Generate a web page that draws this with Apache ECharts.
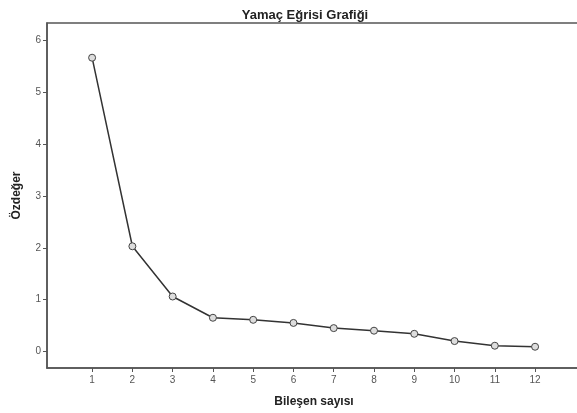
<!DOCTYPE html>
<html>
<head>
<meta charset="utf-8">
<script src="https://cdn.jsdelivr.net/npm/echarts@6/dist/echarts.min.js"></script>
<style>
html, body { margin: 0; padding: 0; background: #fff; overflow: hidden; }
/* biraz geniş: sağ kenar pencerenin dışında kalsın */
#main { width: 581px; height: 413px; }
</style>
</head>
<body>
<div id="main"></div>
<script>
// bileşen numaraları ve özdeğerler
var components = [1, 2, 3, 4, 5, 6, 7, 8, 9, 10, 11, 12];
var eigenvalues = [5.67, 2.03, 1.06, 0.65, 0.61, 0.55, 0.45, 0.40, 0.34, 0.20, 0.11, 0.09];
var yTicks = [0, 1, 2, 3, 4, 5, 6];

var chart = echarts.init(document.getElementById('main'));

var points = [];
for (var i = 0; i < components.length; i++) {
    points.push([components[i], eigenvalues[i]]);
}

var option = {
    animation: false,
    title: {
        text: 'Yamaç Eğrisi Grafiği',
        left: 300,
        textAlign: 'center',
        top: 4,
        textStyle: { fontFamily: 'Liberation Sans', fontSize: 13, fontWeight: 'bold', color: '#222' }
    },
    grid: {
        left: 47, top: 23, right: 0, bottom: 45,
        show: true,
        borderColor: '#555',
        borderWidth: 1.5,
        backgroundColor: '#fff'
    },
    xAxis: {
        type: 'value',
        min: -0.12,
        max: 13.14,
        name: 'Bileşen sayısı',
        nameLocation: 'middle',
        nameGap: 28,
        nameTextStyle: { fontFamily: 'Liberation Sans', fontSize: 12, fontWeight: 'bold', color: '#222' },
        axisLine: { show: true, onZero: false, lineStyle: { color: '#555', width: 1.5 } },
        axisTick: { show: true, customValues: components, length: 4, lineStyle: { color: '#555' } },
        axisLabel: { customValues: components, fontFamily: 'Liberation Sans', fontSize: 10, color: '#555', margin: 7 },
        splitLine: { show: false }
    },
    yAxis: {
        type: 'value',
        min: -0.32,
        max: 6.34,
        name: 'Özdeğer',
        nameLocation: 'middle',
        nameGap: 24,
        nameRotate: 90,
        nameTextStyle: { fontFamily: 'Liberation Sans', fontSize: 12, fontWeight: 'bold', color: '#222' },
        axisLine: { show: true, onZero: false, lineStyle: { color: '#555', width: 1.5 } },
        axisTick: { show: true, customValues: yTicks, length: 4, lineStyle: { color: '#555' } },
        axisLabel: { customValues: yTicks, fontFamily: 'Liberation Sans', fontSize: 10, color: '#555', margin: 6 },
        splitLine: { show: false }
    },
    series: [
        {
            type: 'line',
            data: points,
            symbol: 'circle',
            symbolSize: 7,
            itemStyle: { color: '#ddd', borderColor: '#444', borderWidth: 1 },
            lineStyle: { color: '#333', width: 1.5 }
        }
    ]
};

chart.setOption(option);
</script>
</body>
</html>
